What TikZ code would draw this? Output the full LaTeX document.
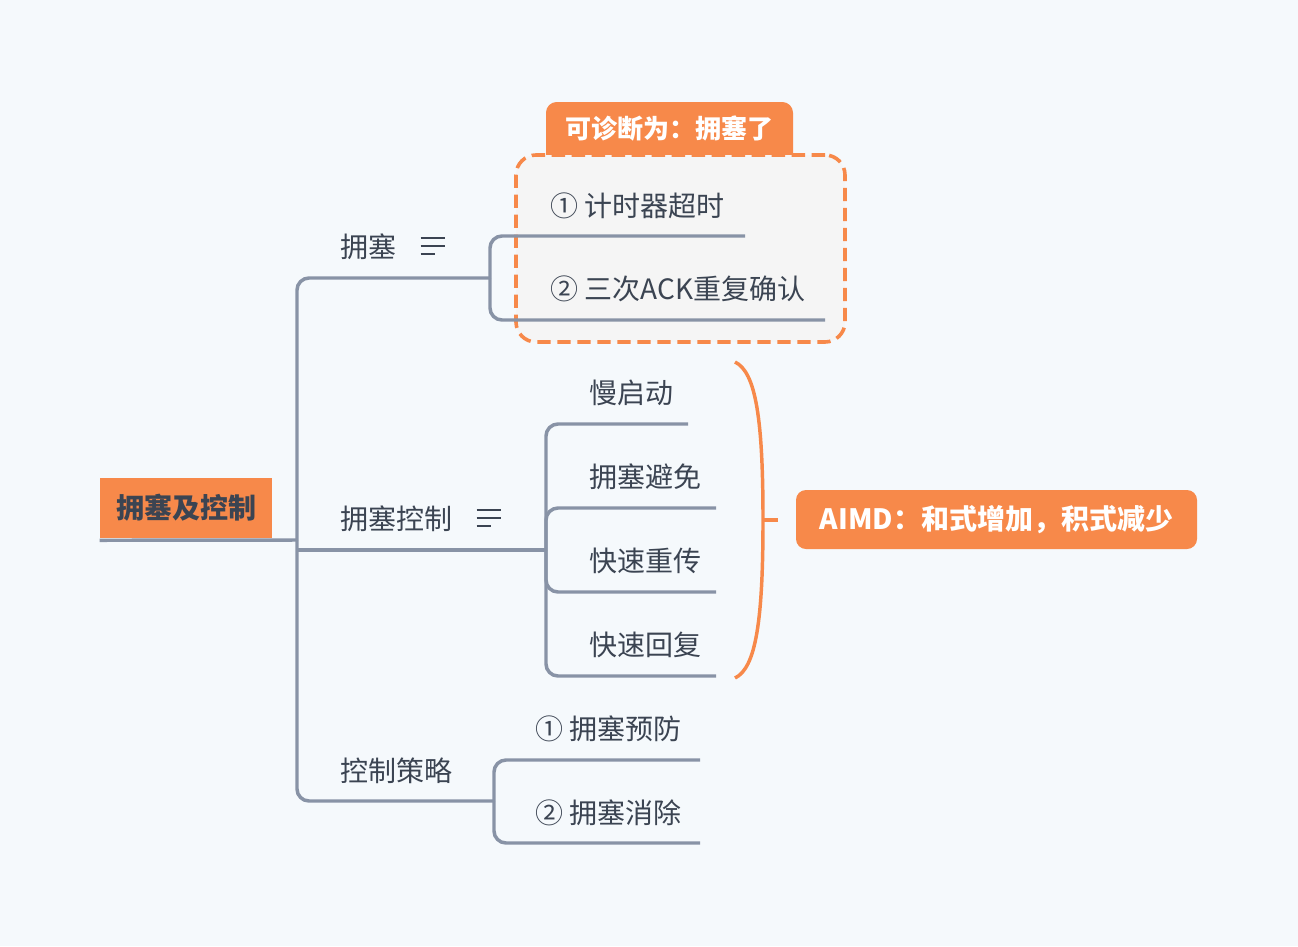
\documentclass[tikz,border=0pt]{standalone}
\usepackage{fontspec}
\setmainfont{Noto Sans CJK SC}
\usepackage{xcolor}
\usepackage{tikz}
\usetikzlibrary{calc,positioning}
\definecolor{PageBg}{HTML}{F5F9FC}
\definecolor{MapOrange}{HTML}{F7894A}
\definecolor{LinkGray}{HTML}{8893A6}
\definecolor{Ink}{HTML}{3B4452}
\definecolor{NoteFill}{HTML}{F5F5F5}
\tikzset{
  every picture/.style={x=0.75pt, y=-0.75pt},
  link/.style={draw=LinkGray, line width=2.6pt, rounded corners=9pt},
  topic/.style={font=\fontsize{21}{25}\selectfont, text=Ink, inner sep=0pt, anchor=base west},
  rootbox/.style={
    fill=MapOrange,
    text=Ink,
    font=\fontsize{21}{25}\selectfont\bfseries,
    minimum width=129pt,
    minimum height=45pt,
    inner sep=0pt
  },
  calloutbox/.style={
    fill=MapOrange,
    text=white,
    font=\fontsize{21}{25}\selectfont\bfseries,
    rounded corners=7.5pt,
    minimum width=300.75pt,
    minimum height=44.25pt,
    inner sep=0pt
  },
  tabtext/.style={text=white, font=\fontsize{19.5}{23}\selectfont\bfseries, inner sep=0pt},
  notebox/.style={
    draw=MapOrange,
    fill=NoteFill,
    line width=2.7pt,
    dash pattern=on 10pt off 5pt,
    rounded corners=15pt,
    minimum width=246.75pt,
    minimum height=140.25pt
  },
  brace/.style={draw=MapOrange, line width=2.6pt},
  iconline/.style={draw=Ink, line width=1.7pt}
}
\newcommand{\notesicon}[1]{%
  \draw[iconline] ($(#1.base east)+(24,-19)$) -- ++(24,0)
    ($(#1.base east)+(24,-11)$) -- ++(24,0)
    ($(#1.base east)+(24,-3)$) -- ++(14,0);}

\begin{document}
\begin{tikzpicture}
  \fill[PageBg] (0,0) rectangle (1298,946);

  % frame round the first branch, with its tab
  \fill[MapOrange, rounded corners=8pt] (546,102) rectangle (793,165);
  \node[notebox] (frame) at (680.5,248.5) {};
  \node[tabtext] (diag) at (669.5,129) {可诊断为：拥塞了};

  \node[rootbox] (root) at (186,508) {拥塞及控制};

  \node[topic] (jam) at (340,257) {拥塞};
  \node[topic] (jamctl) at (340,529) {拥塞控制};
  \node[topic] (policy) at (340,781) {控制策略};
  \notesicon{jam}
  \notesicon{jamctl}

  \node[topic] (timeout) at (550,216) {① 计时器超时};
  \node[topic] (dupack) at (550,299) {② 三次ACK重复确认};
  \node[topic] (slowstart) at (589,403) {慢启动};
  \node[topic] (avoid) at (589,487) {拥塞避免};
  \node[topic] (fastre) at (589,571) {快速重传};
  \node[topic] (fastrec) at (589,655) {快速回复};
  \node[topic] (prevent) at (535,739) {① 拥塞预防};
  \node[topic] (clear) at (535,823) {② 拥塞消除};

  \coordinate (hub) at (297,540);
  \coordinate (jamfork) at (490,278);
  \coordinate (ctlfork) at (546,550);
  \coordinate (polfork) at (494,801);
  \coordinate (timeout-end) at (745,236);
  \coordinate (dupack-end) at (825,320);
  \coordinate (slowstart-end) at (688,424);
  \coordinate (avoid-end) at (716,508);
  \coordinate (fastre-end) at (716,592);
  \coordinate (fastrec-end) at (716,676);
  \coordinate (prevent-end) at (700,760);
  \coordinate (clear-end) at (700,843);

  % trunk
  \draw[link] ($(root.south west)+(0,2)$) -- (hub);
  \draw[link] (hub) |- (jamfork);
  \draw[link] (hub |- ctlfork) -- (ctlfork);
  \draw[link] (hub) |- (polfork);

  % sub-branches
  \draw[link] (jamfork) |- (timeout-end);
  \draw[link] (jamfork) |- (dupack-end);
  \foreach \n in {slowstart,avoid,fastre,fastrec}
    \draw[link] (ctlfork) |- (\n-end);
  \draw[link] (polfork) |- (prevent-end);
  \draw[link] (polfork) |- (clear-end);

  % summary brace
  \coordinate (bracetop) at (735,362);
  \coordinate (bracebot) at (735,678);
  \coordinate (bracemid) at (763,520);
  \coordinate (bracetip) at (778,520);
  \node[calloutbox] (aimd) at (996.5,519.5) {AIMD：和式增加，积式减少};
  \draw[brace] (bracetop) .. controls (756,372) and (763,420) .. (bracemid)
    .. controls (763,620) and (756,668) .. (bracebot);
  \draw[brace] (bracemid) -- (bracetip);
\end{tikzpicture}
\end{document}
